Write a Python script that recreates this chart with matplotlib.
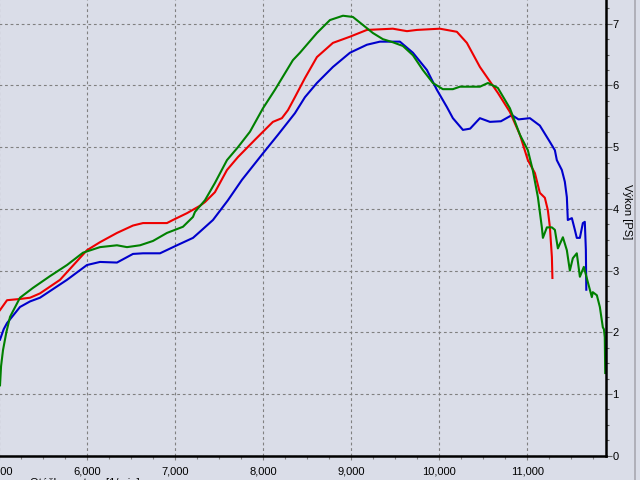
import matplotlib
matplotlib.use("Agg")
import matplotlib.pyplot as plt
from matplotlib.ticker import MultipleLocator, FuncFormatter
from matplotlib.lines import Line2D

# engine speed [1/min] and power [PS] for the three runs
rpm_red = [5008, 5088, 5235, 5349, 5462, 5690, 5996, 6144, 6337, 6519, 6633, 6905,
           6973, 7132, 7280, 7337, 7450, 7587, 7712, 7905, 7996, 8109, 8211, 8280,
           8359, 8473, 8609, 8791, 8984, 9177, 9472, 9632, 9745, 10006, 10199, 10313,
           10461, 10665, 10802, 10916, 11006, 11086, 11142, 11199, 11233, 11256,
           11279, 11285]
pwr_red = [2.36, 2.52, 2.54, 2.56, 2.63, 2.85, 3.33, 3.46, 3.61, 3.73, 3.77, 3.77,
           3.82, 3.93, 4.05, 4.11, 4.27, 4.63, 4.84, 5.12, 5.25, 5.41, 5.47, 5.60,
           5.81, 6.12, 6.46, 6.69, 6.79, 6.90, 6.92, 6.88, 6.90, 6.92, 6.87, 6.69,
           6.30, 5.88, 5.57, 5.20, 4.79, 4.58, 4.26, 4.18, 3.98, 3.71,
           3.22, 2.88]

rpm_blue = [5008, 5050, 5088, 5235, 5349, 5462, 5769, 5996, 6144, 6337, 6519, 6633,
            6826, 7019, 7201, 7280, 7428, 7598, 7757, 7996, 8166, 8359, 8473, 8609,
            8791, 8984, 9177, 9325, 9552, 9700, 9859, 9972, 10086, 10154, 10268,
            10350, 10461, 10575, 10700, 10825, 10900, 11029, 11142, 11250, 11313,
            11335, 11392, 11426, 11449, 11460, 11506, 11540, 11562, 11597, 11631,
            11653, 11665, 11670]
pwr_blue = [1.88, 2.05, 2.15, 2.41, 2.50, 2.56, 2.85, 3.09, 3.14, 3.13, 3.27, 3.28,
            3.28, 3.41, 3.53, 3.63, 3.82, 4.14, 4.47, 4.90, 5.20, 5.55, 5.81, 6.04,
            6.30, 6.53, 6.66, 6.71, 6.71, 6.53, 6.25, 5.93, 5.65, 5.47, 5.28,
            5.30, 5.47, 5.41, 5.42, 5.52, 5.45, 5.47, 5.35, 5.10, 4.95,
            4.79, 4.63, 4.44, 4.19, 3.82, 3.85, 3.66, 3.53, 3.53, 3.77,
            3.79, 3.34, 2.69]

rpm_green = [5008, 5020, 5042, 5080, 5122, 5235, 5383, 5576, 5769, 5951, 6144, 6337,
             6451, 6599, 6746, 6905, 7087, 7201, 7223, 7337, 7450, 7587, 7712, 7848,
             7996, 8132, 8336, 8416, 8609, 8757, 8905, 9018, 9132, 9245, 9359, 9472,
             9586, 9700, 9813, 9927, 10040, 10154, 10234, 10461, 10552, 10665, 10802,
             10916, 11006, 11063, 11120, 11165, 11177, 11222, 11279, 11313, 11347,
             11404, 11449, 11483, 11517, 11562, 11597, 11642, 11688, 11733, 11744,
             11790, 11824, 11858, 11870, 11880, 11885]
pwr_green = [1.14, 1.45, 1.71, 2.00, 2.25, 2.56, 2.72, 2.91, 3.09, 3.29, 3.38, 3.41,
             3.38, 3.41, 3.48, 3.61, 3.71, 3.87, 3.95, 4.14, 4.42, 4.79, 5.00, 5.25,
             5.63, 5.93, 6.41, 6.53, 6.85, 7.06, 7.13, 7.11, 6.98, 6.85, 6.75, 6.70,
             6.64, 6.49, 6.25, 6.04, 5.94, 5.94, 5.98, 5.98, 6.04, 5.96, 5.63,
             5.20, 4.95, 4.62, 4.19, 3.70, 3.53, 3.70, 3.70, 3.66, 3.36,
             3.54, 3.33, 3.00, 3.20, 3.28, 2.90, 3.06, 2.81, 2.57, 2.65,
             2.60, 2.41, 2.08, 2.05, 1.92, 1.34]

bg = '#dadde8'
fig = plt.figure(figsize=(6.4, 4.8), dpi=100, facecolor=bg)
# plot area runs off the left edge of the picture, like the screenshot
ax = fig.add_axes([-0.7 / 640, 24.3 / 480, 606.8 / 640, 1 - 24.3 / 480])
ax.set_facecolor(bg)

ax.plot(rpm_blue, pwr_blue, color='#0000cc', lw=1.5)
ax.plot(rpm_red, pwr_red, color='#ee0000', lw=1.5)
ax.plot(rpm_green, pwr_green, color='#008000', lw=1.5)

ax.set_xlim(5000, 11895)
ax.set_ylim(0, 7.385)

ax.xaxis.set_major_locator(MultipleLocator(1000))
ax.xaxis.set_minor_locator(MultipleLocator(250))
ax.xaxis.set_major_formatter(FuncFormatter(lambda v, p: f'{int(v):,}'))
ax.yaxis.set_major_locator(MultipleLocator(1))
ax.yaxis.set_minor_locator(MultipleLocator(0.25))

ax.yaxis.tick_right()
ax.yaxis.set_label_position('right')
for s in ['left', 'top']:
    ax.spines[s].set_visible(False)
for s in ['right', 'bottom']:
    ax.spines[s].set_linewidth(1.8)
    ax.spines[s].set_color('black')

ax.grid(True, which='major', color='#808080', linestyle=(0, (2.5, 2.5)), lw=0.8)
ax.tick_params(axis='x', which='major', direction='out', length=3, width=0.8,
               color='#808080', pad=5, labelsize=8)
ax.tick_params(axis='x', which='minor', direction='out', length=2, width=0.8,
               color='#808080')
ax.tick_params(axis='y', which='major', direction='out', length=4, width=0.8,
               color='#606060', pad=0.5, labelsize=8)
ax.tick_params(axis='y', which='minor', direction='out', length=2.5, width=0.8,
               color='#606060')
for lab in ax.get_xticklabels() + ax.get_yticklabels():
    lab.set_family('Liberation Sans')

fig.text(627 / 640, 1 - 212 / 480, 'Výkon [PS]', rotation=270, ha='center',
         va='center', fontsize=8, family='Liberation Sans')
# axis title sits mostly below the visible area in the screenshot
fig.text(30 / 640, 1 - 477.5 / 480, 'Otáčky motoru [1/min]', ha='left', va='top',
         fontsize=8, family='Liberation Sans')

fig.add_artist(Line2D([635 / 640, 635 / 640], [0, 1], transform=fig.transFigure,
                      color='#a8a8b0', lw=1.2))

fig.savefig('out.png', dpi=100, facecolor=bg)
